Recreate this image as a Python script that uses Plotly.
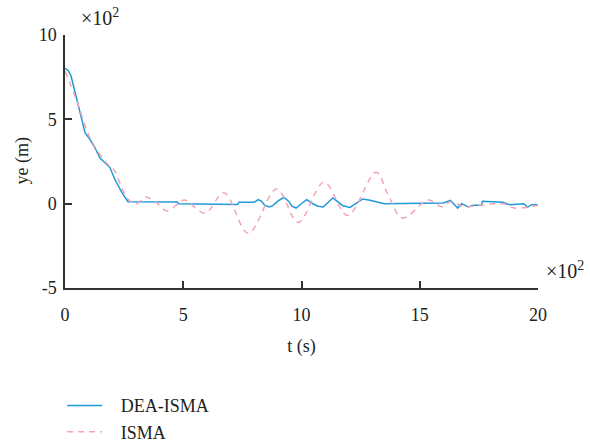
import plotly.graph_objects as go

# Time axis (units of 10^2 s) and tracking error ye (units of 10^2 m)
t_dea = [0.0, 0.13, 0.25, 0.42, 0.85, 1.06, 1.27, 1.48, 1.69, 1.90, 2.11, 2.41, 2.66,
         4.75, 4.80, 7.30, 7.35, 8.0, 8.17, 8.30, 8.45, 8.64, 8.80, 9.0, 9.26, 9.45,
         9.60, 9.77, 9.95, 10.22, 10.50, 10.70, 10.92, 11.10, 11.32, 11.50, 11.75,
         12.05, 12.30, 12.59, 12.90, 13.20, 13.50, 16.0, 16.3, 16.6, 16.77, 17.05,
         17.26, 17.60, 17.65, 18.50, 18.80, 19.40, 19.56, 19.73, 20.0]
ye_dea = [8.02, 7.9, 7.6, 6.6, 4.2, 3.8, 3.3, 2.7, 2.44, 2.14, 1.43, 0.65, 0.12,
          0.10, 0.0, -0.05, 0.08, 0.08, 0.24, 0.15, -0.10, -0.20, -0.10, 0.15, 0.38, 0.15,
          -0.15, -0.26, -0.05, 0.24, -0.02, -0.15, -0.20, 0.05, 0.34, 0.15, -0.12,
          -0.22, 0.0, 0.28, 0.20, 0.08, 0.0, 0.04, 0.20, -0.26, 0.0, -0.20,
          -0.10, -0.10, 0.14, 0.08, -0.06, 0.0, -0.20, -0.06, -0.06]

t_isma = [0.0, 0.47, 1.06, 1.69, 2.11, 2.40, 2.68, 3.03, 3.42, 3.88, 4.30, 4.79, 5.05,
          5.92, 6.72, 7.75, 8.95, 9.86, 10.95, 11.95, 13.15, 13.67, 14.27, 15.36,
          15.93, 16.28, 16.90, 17.50, 18.53, 19.0, 19.6, 20.0]
ye_isma = [7.87, 6.2, 3.9, 2.52, 1.92, 0.93, 0.24, 0.0, 0.40, 0.04, -0.42, 0.0, 0.22,
           -0.56, 0.64, -1.75, 0.87, -1.11, 1.27, -0.70, 1.86, 0.50, -0.85, 0.22,
           -0.18, 0.10, -0.18, -0.10, 0.0, -0.26, -0.20, -0.10]

x_ticks = [0, 5, 10, 15, 20]
y_ticks = [-5, 0, 5, 10]
y_tick_text = ["-5", "0", "5", "10"]

FONT = "Liberation Serif"
INK = "#222222"
AXIS = "#333333"
PAD = "\u00a0" * 3  # gap between legend swatch and label

fig = go.Figure()
fig.add_trace(go.Scatter(
    x=t_dea, y=ye_dea, mode="lines", name=PAD + "DEA-ISMA",
    line=dict(color="#1f9ad8", width=1.5),
))
fig.add_trace(go.Scatter(
    x=t_isma, y=ye_isma, mode="lines", name=PAD + "ISMA",
    line=dict(color="#f4a3b6", width=1.5, dash="6px,5px", shape="spline", smoothing=1.0),
))

axis_common = dict(
    showgrid=False, zeroline=False, showline=True, linecolor=AXIS, linewidth=1.5,
    ticks="inside", ticklen=7, tickwidth=1.5, tickcolor=AXIS, automargin=False,
    tickfont=dict(family=FONT, size=18, color=INK), mirror=False,
)

fig.update_layout(
    width=590, height=446,
    margin=dict(l=65, r=52, t=35, b=158, autoexpand=False),
    paper_bgcolor="white", plot_bgcolor="white",
    font=dict(family=FONT, color=INK),
    xaxis=dict(range=[0, 20], tickvals=x_ticks, ticklabelstandoff=10,
               title=dict(text="t (s)", font=dict(family=FONT, size=18, color=INK)),
               **axis_common),
    yaxis=dict(range=[-5, 10], tickvals=y_ticks, ticktext=y_tick_text, ticklabelstandoff=3,
               **axis_common),
    showlegend=True,
    legend=dict(x=-0.006, y=-0.392, xanchor="left", yanchor="top",
                font=dict(family=FONT, size=18, color=INK),
                bgcolor="rgba(0,0,0,0)", tracegroupgap=0, itemwidth=35),
    annotations=[
        dict(text="ye (m)", textangle=-90, xref="paper", yref="paper", x=0, y=0.5,
             xanchor="center", yanchor="middle", xshift=-43, showarrow=False,
             font=dict(family=FONT, size=18, color=INK)),
        dict(text="×10<sup>2</sup>", xref="paper", yref="paper", x=0.03, y=1.0,
             xanchor="left", yanchor="bottom", showarrow=False, yshift=4,
             font=dict(family=FONT, size=20, color=INK)),
        dict(text="×10<sup>2</sup>", xref="paper", yref="paper", x=1.0, y=0.0,
             xanchor="left", yanchor="bottom", showarrow=False, xshift=6, yshift=4,
             font=dict(family=FONT, size=20, color=INK)),
    ],
)

fig.write_html("out.html")
